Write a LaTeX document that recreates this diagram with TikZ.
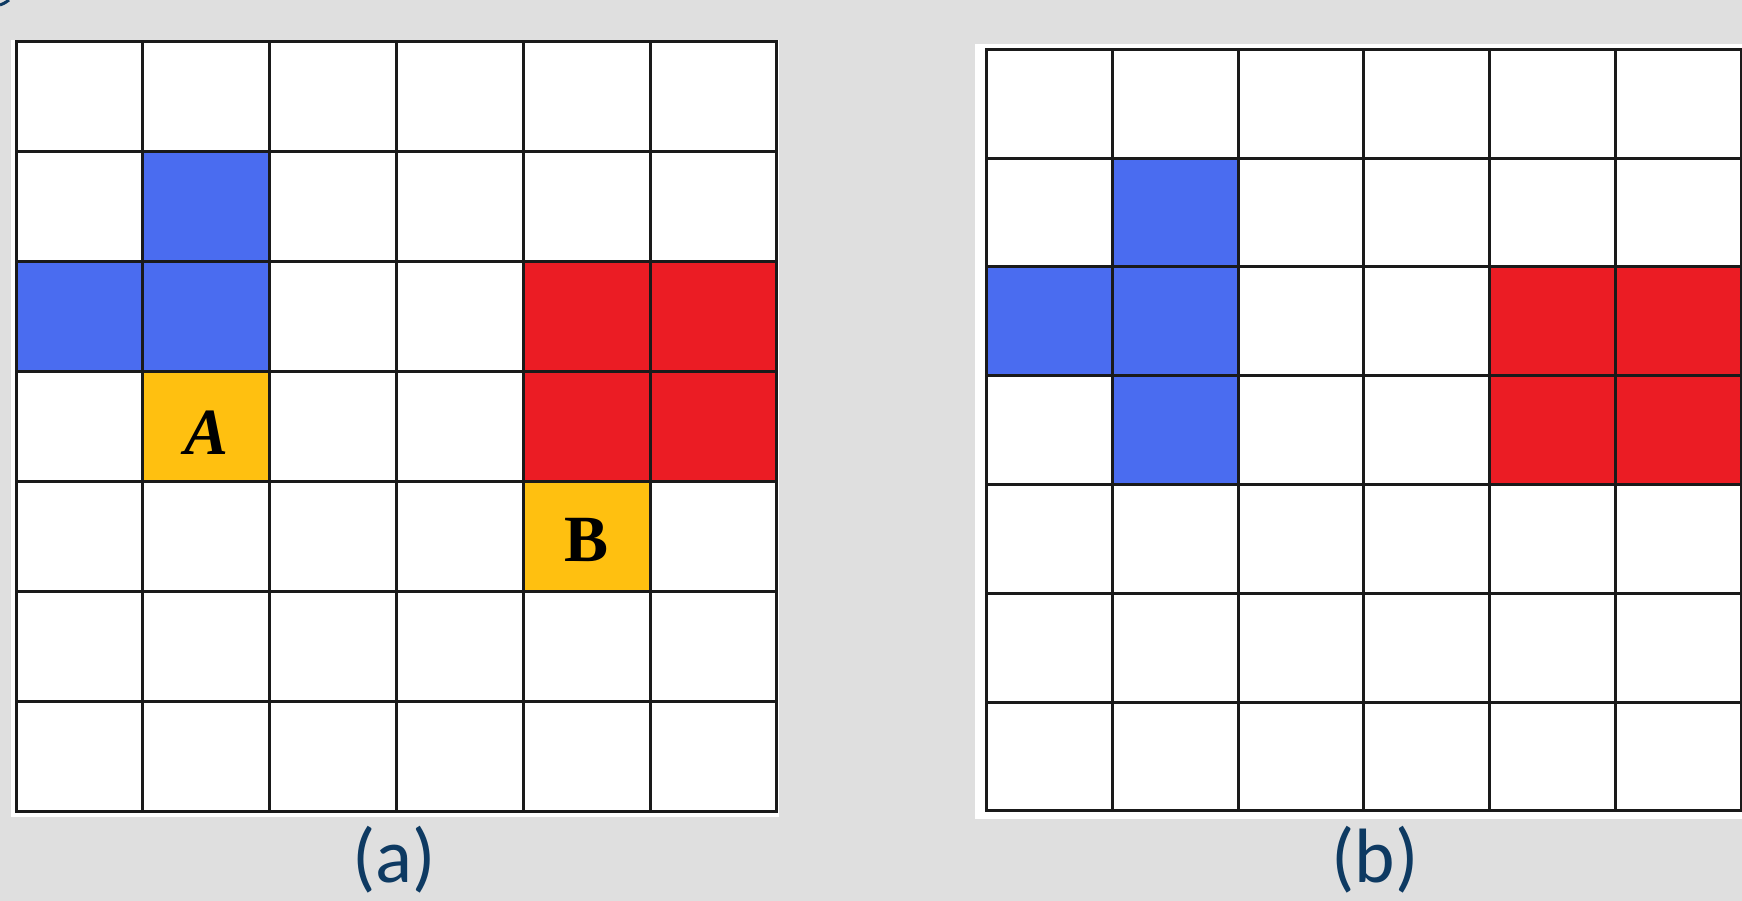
\documentclass[tikz,border=0pt]{standalone}
\usepackage{fontspec}
\setmainfont{Liberation Serif}
\newfontfamily\labelfont{Carlito}
\definecolor{bggray}{HTML}{DFDFDF}
\definecolor{cblue}{HTML}{4A6CF0}
\definecolor{cred}{HTML}{EB1C24}
\definecolor{corange}{HTML}{FFC010}
\definecolor{labelblue}{HTML}{0E3A62}
\definecolor{gridline}{HTML}{1A1A1A}
\tikzset{
  gridlines/.style={draw=gridline, line width=3pt, line cap=rect},
  letter/.style={inner sep=0pt, font=\fontsize{66}{66}\selectfont\bfseries},
  caption/.style={inner sep=0pt, text=labelblue, font=\labelfont\fontsize{77}{77}\selectfont}
}
\begin{document}
\begin{tikzpicture}[x=1pt,y=-1pt]
\useasboundingbox (0,0) rectangle (1742,901);
\fill[bggray] (0,0) rectangle (1742,901);
% top-left arc fragment
\draw[labelblue, line width=3pt] (0,5) .. controls (4,3.5) .. (9,0);
% ---------- grid (a) ----------
\fill[white] (11,40) rectangle (779,817);
\begin{scope}[shift={(16,42)}, x=126.83pt, y=-109.86pt]
  \fill[cblue] (1,1) rectangle (2,2);
  \fill[cblue] (0,2) rectangle (2,3);
  \fill[cred] (4,2) rectangle (6,4);
  \fill[corange] (1,3) rectangle (2,4);
  \fill[corange] (4,4) rectangle (5,5);
  \foreach \i in {0,...,6} \draw[gridlines] (\i,0) -- (\i,7);
  \foreach \j in {0,...,7} \draw[gridlines] (0,\j) -- (6,\j);
  \node[letter] (A) at (1.5,3.56) {\itshape A};
  \node[letter] (B) at (4.5,4.53) {B};
\end{scope}
\node[caption] (capa) at (394,860) {(a)};
% ---------- grid (b) ----------
\fill[white] (975,44) rectangle (1742,819);
\begin{scope}[shift={(986.7,49.3)}, x=125.72pt, y=-108.81pt]
  \fill[cblue] (1,1) rectangle (2,4);
  \fill[cblue] (0,2) rectangle (1,3);
  \fill[cred] (4,2) rectangle (6,4);
  \foreach \i in {0,...,6} \draw[gridlines] (\i,0) -- (\i,7);
  \foreach \j in {0,...,7} \draw[gridlines] (0,\j) -- (6,\j);
\end{scope}
\node[caption] (capb) at (1375,860) {(b)};
\end{tikzpicture}
\end{document}
